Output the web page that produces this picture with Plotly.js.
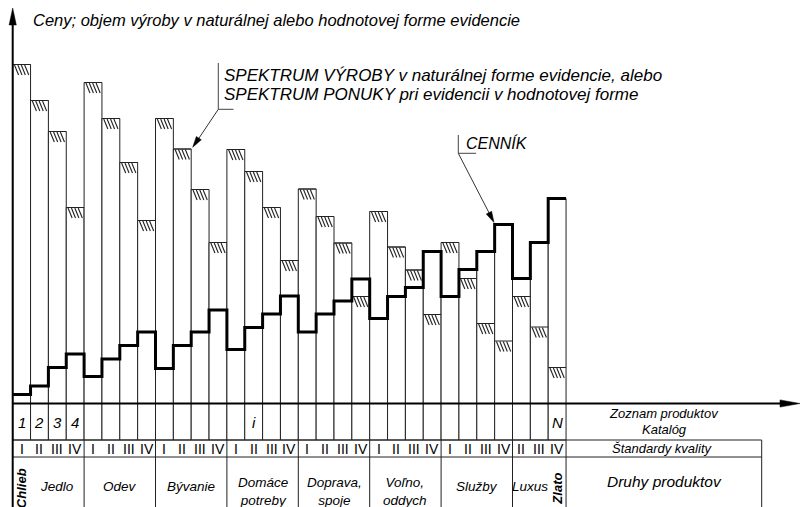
<!DOCTYPE html>
<html><head><meta charset="utf-8">
<script src="https://cdn.plot.ly/plotly-3.0.1.min.js"></script>
<style>html,body{margin:0;padding:0;background:#fff;}#chart{width:801px;height:507px;}</style>
</head><body><div id="chart"></div>
<script>
// ---------------- DATA ----------------
const productNumbers = ['1','2','3','4','','','','','','','','','','i','','','','','','','','','','','','','','','','','N'];
const qualityLabels = ['I','II','III','IV','I','II','III','IV','I','II','III','IV','I','II','III','IV',
  'I','II','III','IV','I','II','III','IV','I','II','III','IV','II','III','IV'];
const groupNames = ['Chlieb','Jedlo','Odev','Bývanie','Domáce<br>potreby','Doprava,<br>spoje','Voľno,<br>oddych','Služby','Luxus','Zlato'];
const groupSizes = [1,3,4,4,4,4,4,4,2,1];
const groupRotated = [true,false,false,false,false,false,false,false,false,true];
// production / offer spectrum (bar heights) and price list (step line)
const volume = [339,303,272,196,321,285,241,183,285,254.5,214,161,254,232,196,143,214.5,187,160.5,107,192,156.5,133.5,89,161,125,80,62.5,107,76.5,36];
const price  = [9,17.5,36,49.5,27,44.5,58,71.5,35,58,71.5,93.5,54,76,89.5,107.5,71.5,89.5,102.5,124.5,85,107,116,152,107,134,152,179,125,161,205];

// ---------------- LAYOUT GEOMETRY ----------------
const W = 801, H = 507;
const X0 = 12.7, CW = 17.85, Y0 = 403.5;
const P = px => px / W;          // pixel -> paper x
const Q = py => 1 - py / H;      // pixel -> paper y
const ROW1_BOTTOM = -36.5, ROW2_BOTTOM = -53.5, BOTTOM = Y0 - H;
const RIGHT_X = 0.5 + (761.7 - X0) / CW;
const FONT = 'Liberation Sans, Arial, sans-serif';
const LC = '#222';

const n = volume.length;
const cols = volume.map((_, i) => i + 1);
const colTop = volume.map((v, i) => Math.max(v, price[i]));

// ---------------- TRACES ----------------
const traces = [];
traces.push({
  type: 'bar', x: cols, y: colTop.map(t => t - ROW1_BOTTOM), base: ROW1_BOTTOM, width: 1,
  marker: {color: '#ffffff', line: {color: LC, width: 1}}, hoverinfo: 'skip'
});
// bar top edges
const tx = [], ty = [];
cols.forEach((c, i) => { tx.push(c - 0.5, c + 0.5, null); ty.push(volume[i], volume[i], null); });
traces.push({type: 'scatter', mode: 'lines', x: tx, y: ty, line: {color: LC, width: 1}, hoverinfo: 'skip'});
// hatching at the top of each bar
const hx = [], hy = [];
cols.forEach((c, i) => {
  for (let k = 0; k < 4; k++) {
    const a = c - 0.5 + 0.1 + k * 0.19;
    hx.push(a, a + 0.23, null);
    hy.push(volume[i] - 0.5, volume[i] - 10.5, null);
  }
});
traces.push({type: 'scatter', mode: 'lines', x: hx, y: hy, line: {color: '#222', width: 1.1}, hoverinfo: 'skip'});
// price list step line
traces.push({
  type: 'scatter', mode: 'lines',
  x: cols.map(c => c - 0.5).concat([n + 0.5]),
  y: price.concat([price[n - 1]]),
  line: {color: '#000', width: 3, shape: 'hv'}, hoverinfo: 'skip'
});

// ---------------- SHAPES ----------------
const shapes = [];
const L = (x0, y0, x1, y1, w, col, ref) => shapes.push({type: 'line', xref: ref || 'x', yref: ref || 'y',
  x0, y0, x1, y1, line: {color: col || '#000', width: w || 1}});
// table horizontal lines
L(0.5, ROW1_BOTTOM, RIGHT_X, ROW1_BOTTOM, 1, LC);
L(0.5, ROW2_BOTTOM, RIGHT_X, ROW2_BOTTOM, 1, LC);
L(RIGHT_X, ROW1_BOTTOM, RIGHT_X, BOTTOM, 1, LC);
// group separators in rows 2 and 3
let cum = 0;
groupSizes.forEach((s, g) => {
  cum += s;
  const last = g === groupSizes.length - 1;
  if (last || !(groupRotated[g] || groupRotated[g + 1])) L(cum + 0.5, ROW1_BOTTOM, cum + 0.5, BOTTOM, 1, LC);
});
// axes
L(0.5, BOTTOM, 0.5, Y0 - 22, 2, '#000');
L(0.5, 0, 0.5 + (784 - X0) / CW, 0, 2, '#000');
function arrowHead(tail, tip, len, hw) {
  const dx = tip[0] - tail[0], dy = tip[1] - tail[1], d = Math.hypot(dx, dy);
  const ux = dx / d, uy = dy / d, bx = tip[0] - len * ux, by = tip[1] - len * uy;
  const p1 = [bx - hw * uy, by + hw * ux], p2 = [bx + hw * uy, by - hw * ux];
  return {type: 'path', xref: 'paper', yref: 'paper', fillcolor: '#000', line: {color: '#000', width: 0.5},
    path: `M${P(tip[0])},${Q(tip[1])} L${P(p1[0])},${Q(p1[1])} L${P(p2[0])},${Q(p2[1])} Z`};
}
shapes.push(arrowHead([X0, 100], [X0, 8], 17, 3.6));
shapes.push(arrowHead([700, Y0], [800, Y0], 20, 3.6));
// leaders
const leader = (pts, col) => { for (let k = 0; k < pts.length - 1; k++)
  L(P(pts[k][0]), Q(pts[k][1]), P(pts[k + 1][0]), Q(pts[k + 1][1]), 1, col, 'paper'); };
leader([[218.3, 63], [218.3, 109.3], [233.5, 109.3]], '#444');
leader([[218.3, 109.3], [194, 145.5]], '#333');
shapes.push(arrowHead([218.3, 109.3], [192.7, 147.3], 11, 3));
leader([[458.3, 135], [458.3, 153.3], [476, 153.3]], '#444');
leader([[458.3, 153.3], [493, 220.5]], '#333');
shapes.push(arrowHead([458.3, 153.3], [494, 222.5], 11, 3));

// ---------------- ANNOTATIONS ----------------
const ann = [];
const T = (text, x, y, opt) => ann.push(Object.assign({text, x, y, xref: 'x', yref: 'y', showarrow: false,
  xanchor: 'center', yanchor: 'middle', font: {family: FONT, size: 13, color: '#000'}}, opt || {}));
const TP = (text, px, py, size, opt) => T(text, P(px), Q(py), Object.assign({xref: 'paper', yref: 'paper',
  xanchor: 'left', font: {family: FONT, size, color: '#000'}}, opt || {}));

cols.forEach((c, i) => {
  if (productNumbers[i]) T('<i>' + productNumbers[i] + '</i>', c, -18.5, {font: {family: FONT, size: 15, color: '#000'}});
  T(qualityLabels[i], c, -45, {font: {family: FONT, size: 14, color: '#000'}});
});
cum = 0;
groupSizes.forEach((s, g) => {
  const center = cum + (s + 1) / 2;
  cum += s;
  if (groupRotated[g]) {
    T('<b><i>' + groupNames[g] + '</i></b>', center, -85, {textangle: -90, font: {family: FONT, size: 13, color: '#000'}});
  } else {
    const two = groupNames[g].includes('<br>');
    T('<i>' + groupNames[g] + '</i>', center, two ? -87.5 : -82.5, {font: {family: FONT, size: 13.5, color: '#000'}});
  }
});
TP('<i>Ceny; objem výroby v naturálnej alebo hodnotovej forme evidencie</i>', 31, 20, 16.5);
TP('<i>SPEKTRUM VÝROBY v naturálnej forme evidencie, alebo</i>', 222, 75.5, 17);
TP('<i>SPEKTRUM PONUKY pri evidencii v hodnotovej forme</i>', 222, 94, 17);
TP('<i>CENNÍK</i>', 464, 142.5, 16);
TP('<i>Zoznam produktov</i>', 664, 413, 13, {xanchor: 'center'});
TP('<i>Katalóg</i>', 664, 429, 13, {xanchor: 'center'});
TP('<i>Štandardy kvality</i>', 662, 448.5, 13, {xanchor: 'center'});
TP('<i>Druhy produktov</i>', 664, 481, 15.5, {xanchor: 'center'});

const layout = {
  width: W, height: H, margin: {l: 0, r: 0, t: 0, b: 0}, autosize: false,
  paper_bgcolor: '#fff', plot_bgcolor: '#fff', showlegend: false, bargap: 0,
  xaxis: {visible: false, range: [0.5 - X0 / CW, 0.5 + (W - X0) / CW], fixedrange: true},
  yaxis: {visible: false, range: [Y0 - H, Y0], fixedrange: true},
  shapes, annotations: ann
};
Plotly.newPlot('chart', traces, layout, {staticPlot: true, displayModeBar: false});
</script></body></html>
